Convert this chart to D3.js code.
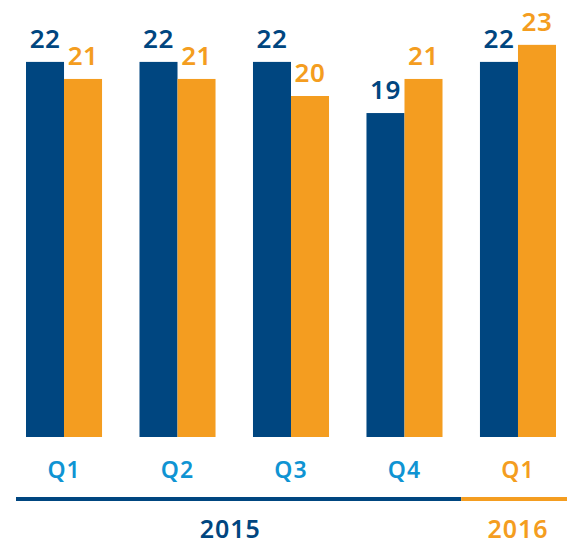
<!DOCTYPE html>
<html>
<head>
<meta charset="utf-8">
<script src="https://cdn.jsdelivr.net/npm/d3@7"></script>
<style>
  body { margin: 0; background: #fff; }
  text { font-family: "Noto Sans", sans-serif; }
</style>
</head>
<body>
<div class="box"></div>
<script>
// DATA
const quarters = ['Q1', 'Q2', 'Q3', 'Q4', 'Q1 '];
const years = ['2015', '2015', '2015', '2015', '2016'];
const seriesA = [22, 22, 22, 19, 22];
const seriesB = [21, 21, 20, 21, 23];

// SETUP
const width = 567;
const height = 544;
const blue = '#004680';
const orange = '#f49d20';
const qBlue = '#0f94d3';

const svg = d3.select('.box')
              .append('svg')
              .attr('width', width)
              .attr('height', height);

const baseline = 437;

// scales
const x = d3.scaleBand()
            .domain(quarters)
            .range([26, 556])
            .paddingInner(0.33)
            .paddingOuter(0);

const xInner = d3.scaleBand()
                 .domain(['a', 'b'])
                 .range([0, x.bandwidth()]);

const y = d3.scaleLinear()
            .domain([0, 25])
            .range([baseline, baseline - 17.05 * 25]);

const rows = quarters.map((q, i) => ({q: q, year: years[i], a: seriesA[i], b: seriesB[i]}));

const groups = svg.selectAll('g.grp')
                  .data(rows)
                  .enter()
                  .append('g')
                  .attr('class', 'grp')
                  .attr('transform', d => `translate(${x(d.q)}, 0)`);

const bars = groups.selectAll('g.bar')
                   .data(d => [{k: 'a', v: d.a, c: blue}, {k: 'b', v: d.b, c: orange}])
                   .enter()
                   .append('g')
                   .attr('class', 'bar');

bars.append('rect')
    .attr('x', d => xInner(d.k))
    .attr('width', xInner.bandwidth())
    .attr('y', d => y(d.v))
    .attr('height', d => baseline - y(d.v))
    .attr('fill', d => d.c);

// value labels
bars.append('text')
    .attr('x', d => xInner(d.k) + xInner.bandwidth() / 2)
    .attr('y', d => y(d.v) - 14)
    .attr('text-anchor', 'middle')
    .attr('font-size', 26)
    .attr('font-weight', 600)
    .attr('letter-spacing', 0.5)
    .attr('fill', d => d.c)
    .text(d => d.v);

// quarter labels
groups.append('text')
      .attr('x', x.bandwidth() / 2)
      .attr('y', 478)
      .attr('text-anchor', 'middle')
      .attr('font-size', 23)
      .attr('font-weight', 600)
      .attr('letter-spacing', 1)
      .attr('fill', d => d.year === '2016' ? orange : qBlue)
      .text(d => d.q.trim());

// year line + labels
const yearNames = Array.from(new Set(years));
const split = (x(quarters[3]) + x.bandwidth() + x(quarters[4])) / 2;
const yearSpans = [
  {year: yearNames[0], x0: 16, x1: split, c: blue,
   mid: d3.mean(quarters.slice(0, 4), q => x(q) + x.bandwidth() / 2) - 4},
  {year: yearNames[1], x0: split, x1: width, c: orange,
   mid: x(quarters[4]) + x.bandwidth() / 2}
];

svg.selectAll('line.yr')
   .data(yearSpans)
   .enter()
   .append('line')
   .attr('class', 'yr')
   .attr('x1', d => d.x0)
   .attr('x2', d => d.x1)
   .attr('y1', 499)
   .attr('y2', 499)
   .attr('stroke', d => d.c)
   .attr('stroke-width', 4);

svg.selectAll('text.yr')
   .data(yearSpans)
   .enter()
   .append('text')
   .attr('class', 'yr')
   .attr('x', d => d.mid)
   .attr('y', 538)
   .attr('text-anchor', 'middle')
   .attr('font-size', 25)
   .attr('font-weight', 600)
   .attr('letter-spacing', 1)
   .attr('fill', d => d.c)
   .text(d => d.year);
</script>
</body>
</html>
